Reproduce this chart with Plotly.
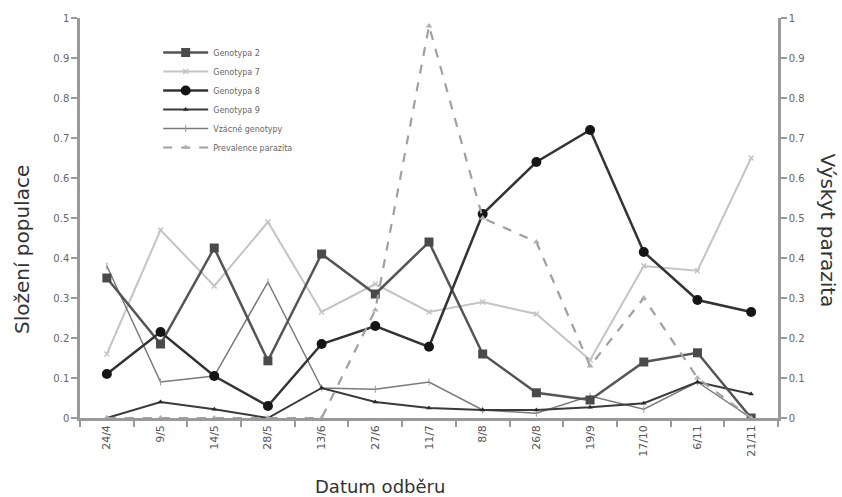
import plotly.graph_objects as go

dates = ["24/4", "9/5", "14/5", "28/5", "13/6", "27/6", "11/7", "8/8", "26/8", "19/9", "17/10", "6/11", "21/11"]

genotyp2 = [0.35, 0.185, 0.425, 0.143, 0.41, 0.31, 0.44, 0.16, 0.063, 0.045, 0.14, 0.163, 0.0]
genotyp7 = [0.16, 0.47, 0.33, 0.49, 0.265, 0.335, 0.265, 0.29, 0.26, 0.145, 0.38, 0.368, 0.65]
genotyp8 = [0.11, 0.215, 0.105, 0.03, 0.185, 0.23, 0.178, 0.51, 0.64, 0.72, 0.415, 0.295, 0.265]
genotyp9 = [0.0, 0.04, 0.022, 0.0, 0.075, 0.04, 0.025, 0.02, 0.02, 0.027, 0.037, 0.09, 0.06]
vzacne = [0.38, 0.09, 0.105, 0.34, 0.075, 0.072, 0.09, 0.02, 0.012, 0.055, 0.022, 0.09, 0.0]
prevalence = [0.0, 0.0, 0.0, 0.0, 0.0, 0.27, 0.98, 0.5, 0.44, 0.13, 0.3, 0.1, 0.0]

font = "DejaVu Sans"
fig = go.Figure()

fig.add_trace(go.Scatter(x=dates, y=genotyp7, name="Genotypa 7", mode="lines+markers",
                         line=dict(color="#c4c4c4", width=2),
                         marker=dict(symbol="x-thin", size=5, color="#c4c4c4", line=dict(color="#c4c4c4", width=1.5))))
fig.add_trace(go.Scatter(x=dates, y=vzacne, name="Vzácné genotypy", mode="lines+markers",
                         line=dict(color="#7a7a7a", width=1.5),
                         marker=dict(symbol="line-ns", size=5, color="#7a7a7a", line=dict(color="#9a9a9a", width=1))))
fig.add_trace(go.Scatter(x=dates, y=prevalence, name="Prevalence parazita", mode="lines+markers",
                         yaxis="y2",
                         line=dict(color="#a0a0a0", width=2.2, dash="dash"),
                         marker=dict(symbol="triangle-up", size=6, color="#b0b0b0")))
fig.add_trace(go.Scatter(x=dates, y=genotyp9, name="Genotypa 9", mode="lines+markers",
                         line=dict(color="#3a3a3a", width=2),
                         marker=dict(symbol="triangle-up", size=5, color="#2a2a2a")))
fig.add_trace(go.Scatter(x=dates, y=genotyp2, name="Genotypa 2", mode="lines+markers",
                         line=dict(color="#555555", width=2.5),
                         marker=dict(symbol="square", size=9, color="#4a4a4a")))
fig.add_trace(go.Scatter(x=dates, y=genotyp8, name="Genotypa 8", mode="lines+markers",
                         line=dict(color="#333333", width=2.5),
                         marker=dict(symbol="circle", size=10, color="#151515")))

# legend order as in reference
order = {"Genotypa 2": 1, "Genotypa 7": 2, "Genotypa 8": 3, "Genotypa 9": 4,
         "Vzácné genotypy": 5, "Prevalence parazita": 6}
for tr in fig.data:
    tr.legendrank = order[tr.name]

ticks = [round(i * 0.1, 1) for i in range(11)]
ticktext = ["0"] + [f"{t:g}" for t in ticks[1:-1]] + ["1"]

axis_common = dict(showline=True, linecolor="#9a9a9a", linewidth=2.5,
                   ticks="outside", ticklen=6, tickcolor="#9a9a9a", tickwidth=1.5,
                   showgrid=False, zeroline=False, layer="above traces")

title_font = dict(size=19, color="#333333", family=font)

fig.update_layout(
    width=842, height=497,
    margin=dict(l=80, r=64, t=18, b=79),
    paper_bgcolor="white", plot_bgcolor="white",
    font=dict(family=font, color="#555555", size=10),
    showlegend=True,
    legend=dict(x=0.112, y=0.95, xanchor="left", yanchor="top",
                bgcolor="rgba(0,0,0,0)", font=dict(size=8, color="#666666"),
                tracegroupgap=0, itemwidth=45),
    xaxis=dict(type="category", range=[-0.5, 12.5], tickson="boundaries",
               tickangle=-90, tickfont=dict(size=11, color="#555555"),
               **axis_common),
    yaxis=dict(range=[0, 1], tickvals=ticks, ticktext=ticktext,
               tickfont=dict(size=10, color="#666666"),
               **axis_common),
    yaxis2=dict(range=[0, 1], tickvals=ticks, ticktext=ticktext, overlaying="y", side="right",
                tickfont=dict(size=10, color="#666666"),
                **axis_common),
    annotations=[
        dict(text="Datum odběru", xref="paper", yref="paper", x=0.43, y=-0.17,
             showarrow=False, xanchor="center", yanchor="middle", font=dict(title_font, size=18)),
        dict(text="Složení populace", xref="paper", yref="paper", x=-0.083, y=0.42,
             textangle=-90, showarrow=False, xanchor="center", yanchor="middle", font=dict(title_font, size=20)),
        dict(text="Výskyt parazita", xref="paper", yref="paper", x=1.071, y=0.47,
             textangle=90, showarrow=False, xanchor="center", yanchor="middle", font=dict(title_font, size=20)),
    ],
)

fig.write_html("out.html", config={"displayModeBar": False},
               post_script="document.body.style.margin='0';")
